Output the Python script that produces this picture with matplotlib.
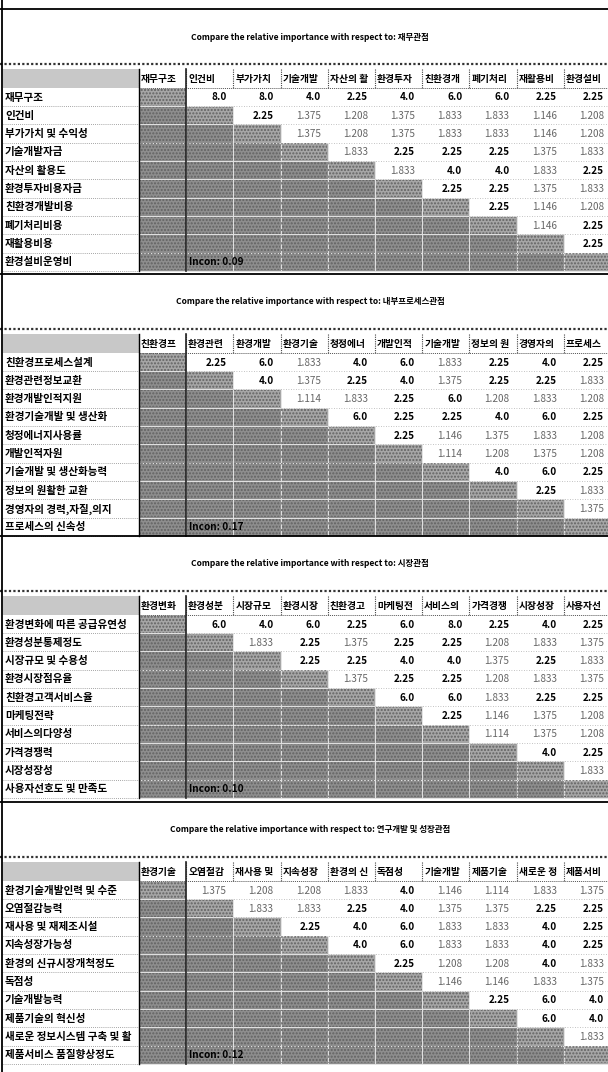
import matplotlib
matplotlib.use('Agg')
import matplotlib.pyplot as plt
from matplotlib.patches import Rectangle
from matplotlib import font_manager

# ---------------- data ----------------
criteria = ['재무관점', '내부프로세스관점', '시장관점', '연구개발 및 성장관점']
incon = [0.09, 0.17, 0.10, 0.12]

labels1 = ['재무구조', '인건비', '부가가치 및 수익성', '기술개발자금', '자산의 활용도',
           '환경투자비용자금', '친환경개발비용', '폐기처리비용', '재활용비용', '환경설비운영비']
values1 = [[8.0, 8.0, 4.0, 2.25, 4.0, 6.0, 6.0, 2.25, 2.25],
           [2.25, 1.375, 1.208, 1.375, 1.833, 1.833, 1.146, 1.208],
           [1.375, 1.208, 1.375, 1.833, 1.833, 1.146, 1.208],
           [1.833, 2.25, 2.25, 2.25, 1.375, 1.833],
           [1.833, 4.0, 4.0, 1.833, 2.25],
           [2.25, 2.25, 1.375, 1.833],
           [2.25, 1.146, 1.208],
           [1.146, 2.25],
           [2.25]]

labels2 = ['친환경프로세스설계', '환경관련정보교환', '환경개발인적지원', '환경기술개발 및 생산화',
           '청정에너지사용률', '개발인적자원', '기술개발 및 생산화능력', '정보의 원활한 교환',
           '경영자의 경력,자질,의지', '프로세스의 신속성']
values2 = [[2.25, 6.0, 1.833, 4.0, 6.0, 1.833, 2.25, 4.0, 2.25],
           [4.0, 1.375, 2.25, 4.0, 1.375, 2.25, 2.25, 1.833],
           [1.114, 1.833, 2.25, 6.0, 1.208, 1.833, 1.208],
           [6.0, 2.25, 2.25, 4.0, 6.0, 2.25],
           [2.25, 1.146, 1.375, 1.833, 1.208],
           [1.114, 1.208, 1.375, 1.208],
           [4.0, 6.0, 2.25],
           [2.25, 1.833],
           [1.375]]

labels3 = ['환경변화에 따른 공급유연성', '환경성분통제정도', '시장규모 및 수용성', '환경시장점유율',
           '친환경고객서비스율', '마케팅전략', '서비스의다양성', '가격경쟁력', '시장성장성',
           '사용자선호도 및 만족도']
values3 = [[6.0, 4.0, 6.0, 2.25, 6.0, 8.0, 2.25, 4.0, 2.25],
           [1.833, 2.25, 1.375, 2.25, 2.25, 1.208, 1.833, 1.375],
           [2.25, 2.25, 4.0, 4.0, 1.375, 2.25, 1.833],
           [1.375, 2.25, 2.25, 1.208, 1.833, 1.375],
           [6.0, 6.0, 1.833, 2.25, 2.25],
           [2.25, 1.146, 1.375, 1.208],
           [1.114, 1.375, 1.208],
           [4.0, 2.25],
           [1.833]]

labels4 = ['환경기술개발인력 및 수준', '오염절감능력', '재사용 및 재제조시설', '지속성장가능성',
           '환경의 신규시장개척정도', '독점성', '기술개발능력', '제품기술의 혁신성',
           '새로운 정보시스템 구축 및 활용', '제품서비스 품질향상정도']
values4 = [[1.375, 1.208, 1.208, 1.833, 4.0, 1.146, 1.114, 1.833, 1.375],
           [1.833, 1.833, 2.25, 4.0, 1.375, 1.375, 2.25, 2.25],
           [2.25, 4.0, 6.0, 1.833, 1.833, 4.0, 2.25],
           [4.0, 6.0, 1.833, 1.833, 4.0, 2.25],
           [2.25, 1.208, 1.208, 4.0, 1.833],
           [1.146, 1.146, 1.833, 1.375],
           [2.25, 6.0, 4.0],
           [6.0, 4.0],
           [1.833]]

tables = [(labels1, values1), (labels2, values2), (labels3, values3), (labels4, values4)]

# ---------------- fonts ----------------
names = {f.name for f in font_manager.fontManager.ttflist}
NARROW = 'Noto Sans CJK KR'
NUM_FS, TITLE_FS = 7.2, 6.1
for cand, nfs, tfs in [('Liberation Sans Narrow', 7.8, 7.0), ('DejaVu Sans Condensed', 7.0, 6.2)]:
    if cand in names:
        NARROW, NUM_FS, TITLE_FS = cand, nfs, tfs
        break
KR = ['Noto Sans CJK KR', 'DejaVu Sans']

# ---------------- layout ----------------
W, H = 608, 1072
fig = plt.figure(figsize=(W / 100, H / 100), dpi=100)
ax = fig.add_axes([0, 0, 1, 1])
ax.set_xlim(0, W)
ax.set_ylim(H, 0)
ax.axis('off')
renderer = fig.canvas.get_renderer()

LAB_X0 = 3
COL_X0 = 139
COL_W = 47.2
ROW_H = 18.3
first_row_centers = [97, 362, 624, 890]

LOWER = '#8e8e8e'
DIAG = '#a6a6a6'
CORNER = '#c8c8c8'
TEXTURE = '#626262'


def fitted_text(x, y, s, max_w, **kw):
    """Draw left-aligned text, dropping trailing characters until it fits max_w pixels."""
    t = ax.text(x, y, s, **kw)
    while len(s) > 1 and t.get_window_extent(renderer).width > max_w:
        s = s[:-1]
        t.set_text(s)
    t.set_text(s.rstrip())
    return t


def gray_cell(x, y, color):
    ax.add_patch(Rectangle((x, y), COL_W, ROW_H, fc=color, ec='#e8e8e8', lw=0.6))
    ax.add_patch(Rectangle((x + 0.6, y + 0.6), COL_W - 1.2, ROW_H - 1.2, fc='none',
                           ec=TEXTURE, lw=0, hatch='.....'))


for t, (labels, values) in enumerate(tables):
    c = first_row_centers[t]
    n = len(labels)
    top = c - 88
    sep = c - 33
    hdr_top = c - 28
    body_top = c - ROW_H / 2
    bottom = body_top + n * ROW_H

    # window top line and title
    ax.plot([0, W], [top, top], color='black', lw=1.3, solid_capstyle='butt')
    ax.text(310, c - 60, f'Compare the relative importance with respect to: {criteria[t]}',
            ha='center', va='center', fontsize=TITLE_FS, weight='bold',
            family=[NARROW, 'Noto Sans CJK KR'], color='black')
    ax.plot([0, W], [sep, sep], color='#333333', lw=1.6, ls=(0, (1, 1)))

    # header row
    ax.add_patch(Rectangle((LAB_X0, hdr_top), COL_X0 - LAB_X0, body_top - hdr_top,
                           fc=CORNER, ec='none'))
    for j in range(n):
        x = COL_X0 + j * COL_W
        room = min(COL_W - 4, W - x - 4)
        fitted_text(x + 2, (hdr_top + body_top) / 2 + 0.5, labels[j], room,
                    ha='left', va='center', fontsize=7, weight='bold', family=KR)
        ax.plot([x, x], [hdr_top, body_top], color='#444444', lw=0.8, ls=(0, (1, 1)))
    ax.plot([COL_X0, W], [body_top, body_top], color='#555555', lw=0.7, ls=(0, (1, 1)))

    # body rows
    for i in range(n):
        y0 = body_top + i * ROW_H
        yc = y0 + ROW_H / 2
        fitted_text(LAB_X0 + 2, yc + 0.5, labels[i], COL_X0 - LAB_X0 - 4,
                    ha='left', va='center', fontsize=7.6, weight='bold', family=KR)
        ax.plot([LAB_X0, COL_X0], [y0 + ROW_H, y0 + ROW_H], color='#888888', lw=0.6,
                ls=(0, (1, 1.5)))
        for j in range(n):
            x = COL_X0 + j * COL_W
            if j < i:
                gray_cell(x, y0, LOWER)
            elif j == i:
                gray_cell(x, y0, DIAG)
            else:
                v = values[i][j - i - 1]
                strong = v >= 2
                ax.text(x + COL_W - 7, yc + 0.5, str(v), ha='right', va='center',
                        fontsize=NUM_FS, family=[NARROW, 'DejaVu Sans'],
                        weight='bold' if strong else 'normal',
                        color='black' if strong else '#666666')
        if i < n - 1:
            x_start = COL_X0 + (i + 1) * COL_W
            ax.plot([x_start, W], [y0 + ROW_H, y0 + ROW_H], color='#b0b0b0', lw=0.6,
                    ls=(0, (1, 2)))

    # inconsistency note
    ax.text(COL_X0 + COL_W + 3, body_top + (n - 0.5) * ROW_H + 0.5, f'Incon: {incon[t]:.2f}',
            ha='left', va='center', fontsize=NUM_FS, weight='bold',
            family=[NARROW, 'DejaVu Sans'], color='black')

    # frame lines
    ax.plot([COL_X0, COL_X0], [hdr_top, bottom], color='black', lw=1.0)
    ax.plot([COL_X0 + COL_W, COL_X0 + COL_W], [hdr_top, bottom], color='#222222', lw=1.2)

ax.plot([2, 2], [0, H], color='black', lw=1.3)

fig.savefig('out.png', dpi=100)
